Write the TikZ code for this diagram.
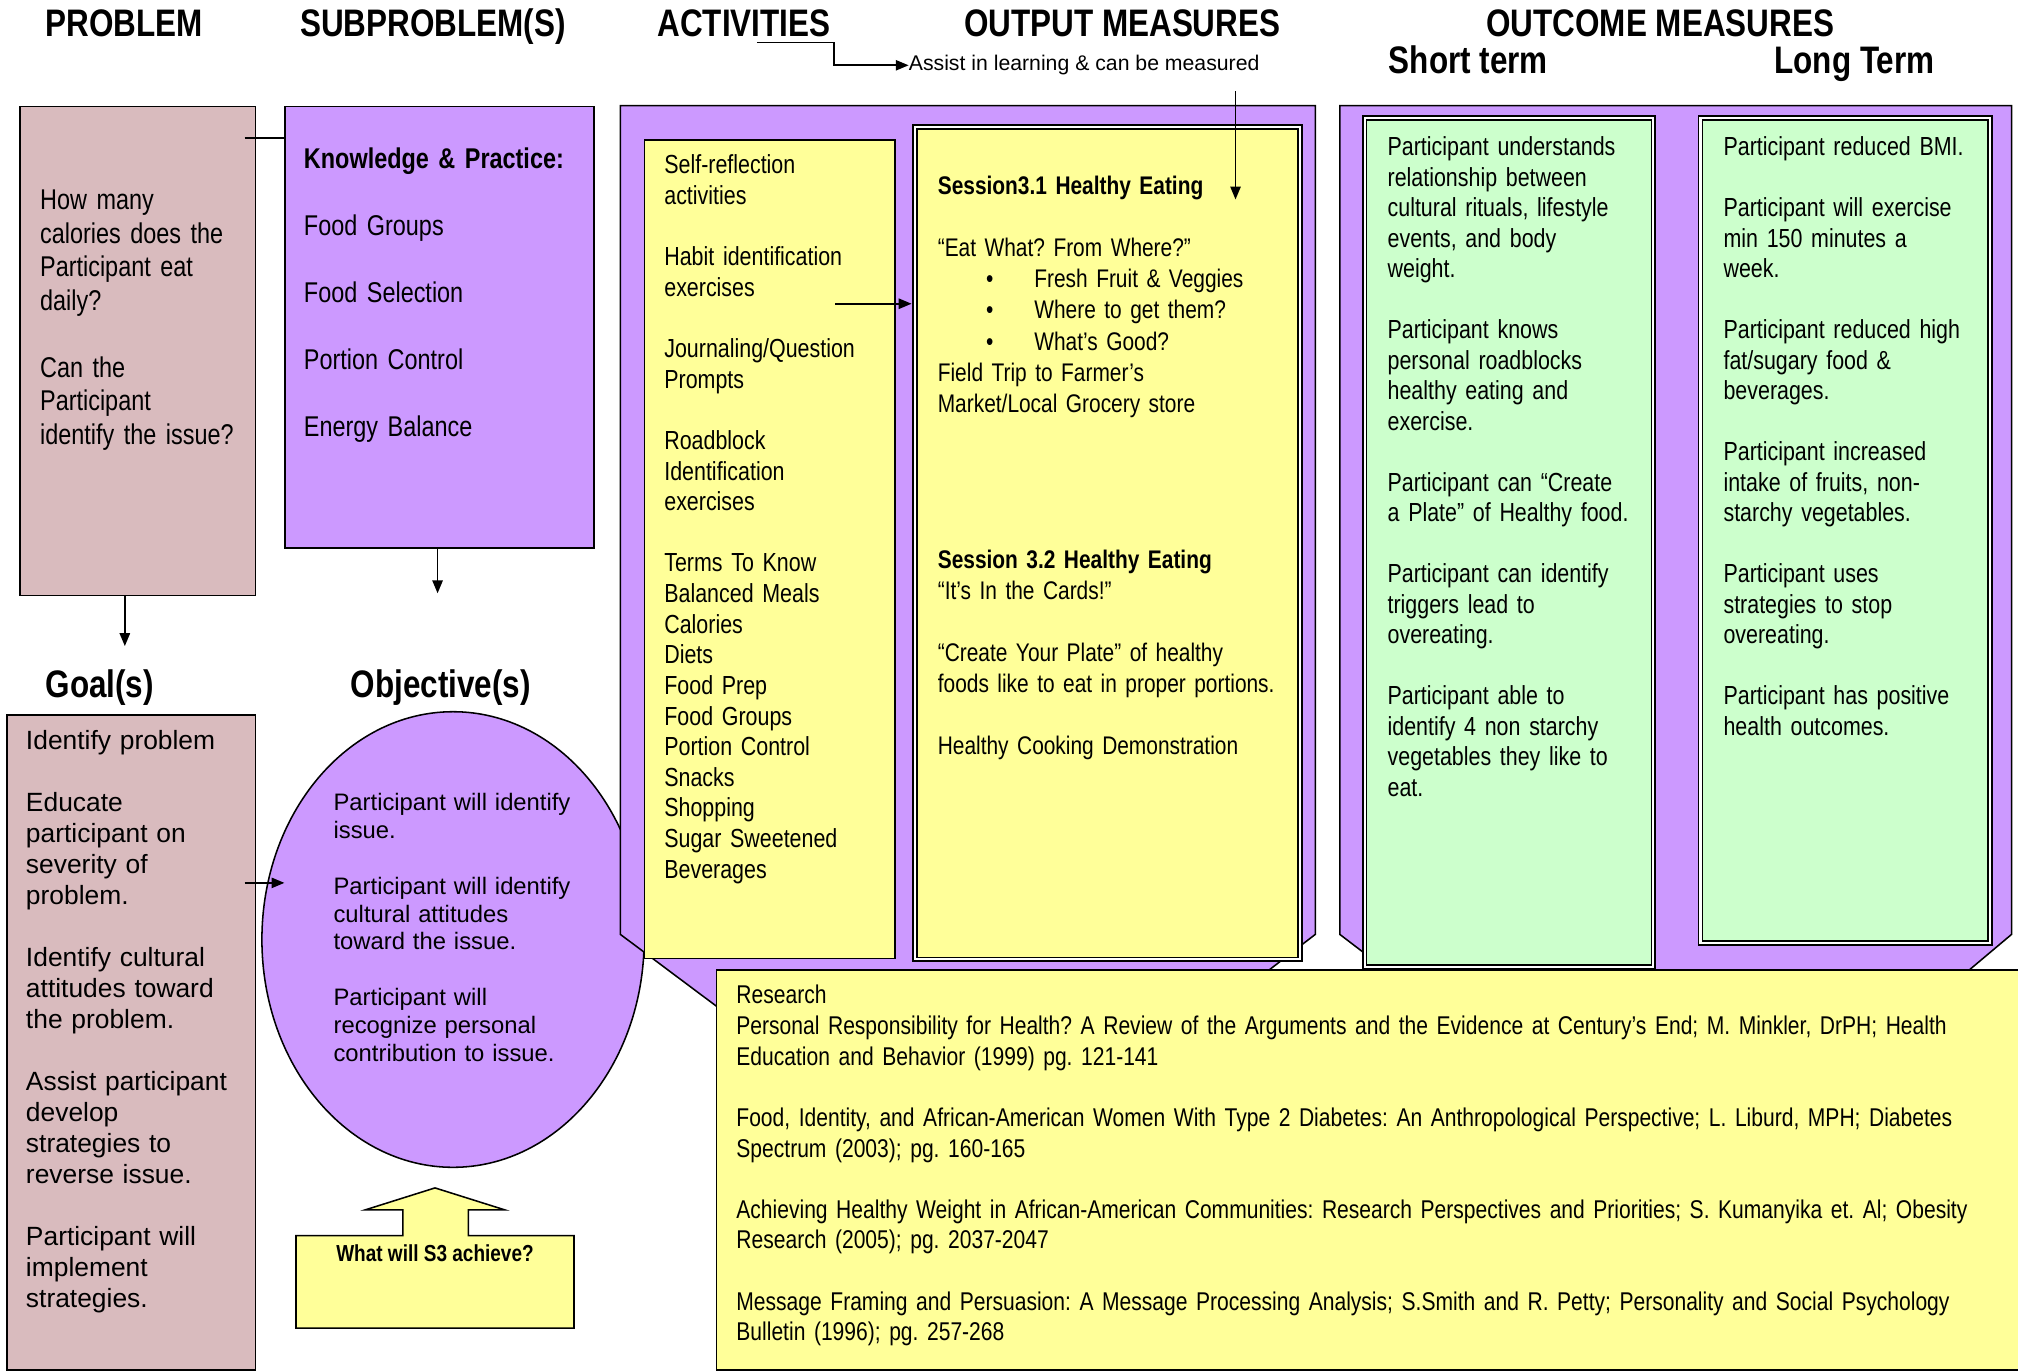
\documentclass[tikz,border=0pt]{standalone}
\usepackage{fontspec}
\setmainfont{Liberation Sans}
\newfontfamily\narrowfont[FakeStretch=0.82]{Liberation Sans}
\usetikzlibrary{shapes.geometric,arrows.meta}

\definecolor{probpink}{RGB}{217,187,190}
\definecolor{lav}{RGB}{204,153,255}
\definecolor{lightyel}{RGB}{255,255,153}
\definecolor{mint}{RGB}{204,255,204}

\newcommand{\setnarrow}[2]{\narrowfont\fontsize{#1}{#2}\selectfont}
\newcommand{\setplain}[2]{\fontsize{#1}{#2}\selectfont}
\newcommand{\gapline}{\\[\baselineskip]}

\begin{document}
\frenchspacing
\begin{tikzpicture}[x=1pt,y=-1pt,
  box/.style={draw, line width=1.2pt, anchor=north west, inner sep=0pt},
  dbox/.style={box, line width=1.4pt, double=white, double distance=1.6pt},
  txt/.style={anchor=base west, inner sep=0pt, text width=#1, align=left},
  txt/.default=330pt,
  head/.style={anchor=base, inner sep=0pt, font=\narrowfont\bfseries\fontsize{29.8}{31}\selectfont},
  arr/.style={line width=1.3pt, -{Triangle[length=10pt,width=8pt]}}]
  \useasboundingbox (0,0) rectangle (1568,1066);

  % column heads
  \foreach \t/\x [count=\i] in {PROBLEM/96.5, SUBPROBLEM(S)/336.5, ACTIVITIES/578,
      OUTPUT MEASURES/872, OUTCOME MEASURES/1290}
    \node[head] (head\i) at (\x,28) {\t};
  \node[head] (shorthd) at (1141,57) {Short term};
  \node[head] (longhd) at (1441,57) {Long Term};
  \node[head] (goalhd) at (77.5,542) {Goal(s)};
  \node[head] (objhd) at (342.5,542) {Objective(s)};
  \node[anchor=base west, inner sep=0pt, font={\setplain{16.5}{18}}] (assist) at (706,55)
    {Assist in learning \& can be measured};

  % left column boxes
  \node[box, fill=probpink, minimum width=183pt, minimum height=380pt] (problem) at (15,82) {};
  \node[box, fill=lav, minimum width=240pt, minimum height=343pt] (subprob) at (221,82) {};
  \node[box, fill=probpink, minimum width=193pt, minimum height=509pt] (goal) at (5,555) {};
  \node[ellipse, draw, line width=1.2pt, fill=lav, minimum width=297pt, minimum height=354pt,
        inner sep=0pt] (obj) at (352,730) {};

  % activities / output panel
  \filldraw[fill=lav, line width=1.2pt] (482,82) -- (1022,82) -- (1022,726) -- (926,800)
    -- (581,800) -- (482,726) -- cycle;
  \node[box, fill=lightyel, minimum width=194.6pt, minimum height=636pt] (act) at (500,108) {};
  \node[dbox, fill=lightyel, minimum width=299pt, minimum height=647pt] (output) at (710.3,97.8) {};

  % outcome panel
  \filldraw[fill=lav, line width=1.2pt] (1041,82) -- (1563,82) -- (1563,726) -- (1475,800)
    -- (1138,800) -- (1041,726) -- cycle;
  \node[dbox, fill=mint, minimum width=224.4pt, minimum height=660pt] (short) at (1059.6,90.8) {};
  \node[dbox, fill=mint, minimum width=224.7pt, minimum height=641pt] (long) at (1320.6,90.8) {};

  % research
  \node[box, fill=lightyel, minimum width=1030pt, minimum height=311pt] (research) at (556,753) {};

  % callout under the objectives
  \filldraw[fill=lightyel, line width=1.2pt] (230,960) -- (313,960) -- (313,940) -- (284,940)
    -- (338,923) -- (392,940) -- (364,940) -- (364,960) -- (446,960) -- (446,1032)
    -- (230,1032) -- cycle;
  \node[anchor=base, inner sep=0pt, font=\narrowfont\bfseries\fontsize{18}{20}\selectfont]
    (achieve) at (338,980.5) {What will S3 achieve?};

  % connectors
  \coordinate (acttail) at (588,33);
  \draw[arr] (acttail) -- ++(60,0) |- (assist.west);
  \coordinate (meastop) at (960,71);
  \coordinate (meastip) at (960,155);
  \draw[arr] (meastop) -- (meastip);
  \coordinate (ptip) at (97,502);
  \draw[arr] (ptip |- problem.south) -- (ptip);
  \coordinate (stip) at (340,461);
  \draw[arr] (stip |- subprob.south) -- (stip);
  \coordinate (pq) at (190,107);
  \draw[line width=1.3pt] (pq) -- (pq -| subprob.west);
  \coordinate (gtail) at (190,686);
  \coordinate (gtip) at (221,686);
  \draw[arr] (gtail) -- (gtip);
  \coordinate (atail) at (649,236);
  \draw[arr, shorten >=2pt] (atail) -- (atail -| output.west);

  % texts
  \node[txt, font={\setnarrow{22.2}{26}}] (probtxt) at (31,163)
    {How many\\calories does the\\Participant eat\\daily?\gapline Can the\\Participant\\identify the issue?};
  \node[txt, font={\setnarrow{22.2}{26}}] (subtxt) at (236,131)
    {{\bfseries Knowledge \& Practice:}\gapline Food Groups\gapline Food Selection\gapline
     Portion Control\gapline Energy Balance};
  \node[txt, font={\setplain{20.5}{24.1}}] (goaltxt) at (20,582)
    {Identify problem\gapline Educate\\participant on\\severity of\\problem.\gapline
     Identify cultural\\attitudes toward\\the problem.\gapline Assist participant\\develop\\
     strategies to\\reverse issue.\gapline Participant will\\implement\\strategies.};
  \node[txt, font={\setplain{18.5}{21.6}}] (objtxt) at (259,630)
    {Participant will identify\\issue.\gapline Participant will identify\\cultural attitudes\\
     toward the issue.\gapline Participant will\\recognize personal\\contribution to issue.};
  \node[txt, font={\setnarrow{20.3}{23.8}}] (acttxt) at (516,135)
    {Self-reflection\\activities\gapline Habit identification\\exercises\gapline
     Journaling/Question\\Prompts\gapline Roadblock\\Identification\\exercises\gapline
     Terms To Know\\Balanced Meals\\Calories\\Diets\\Food Prep\\Food Groups\\Portion Control\\
     Snacks\\Shopping\\Sugar Sweetened\\Beverages};
  \node[txt, font={\setnarrow{19.8}{24.2}}] (outtxt) at (728.5,151)
    {{\bfseries Session3.1 Healthy Eating}\gapline “Eat What? From Where?”\\
     \hspace*{37.5pt}\makebox[37.5pt][l]{•}Fresh Fruit \& Veggies\\
     \hspace*{37.5pt}\makebox[37.5pt][l]{•}Where to get them?\\
     \hspace*{37.5pt}\makebox[37.5pt][l]{•}What’s Good?\\
     Field Trip to Farmer’s\\Market/Local Grocery store\\[4\baselineskip]
     {\bfseries Session 3.2 Healthy Eating}\\“It’s In the Cards!”\gapline
     “Create Your Plate” of healthy\\foods like to eat in proper portions.\gapline
     Healthy Cooking Demonstration};
  \node[txt, font={\setnarrow{20.3}{23.7}}] (shorttxt) at (1078,121)
    {Participant understands\\relationship between\\cultural rituals, lifestyle\\events, and body\\
     weight.\gapline Participant knows\\personal roadblocks\\healthy eating and\\exercise.\gapline
     Participant can “Create\\a Plate” of Healthy food.\gapline Participant can identify\\
     triggers lead to\\overeating.\gapline Participant able to\\identify 4 non starchy\\
     vegetables they like to\\eat.};
  \node[txt, font={\setnarrow{20.3}{23.7}}] (longtxt) at (1339,121)
    {Participant reduced BMI.\gapline Participant will exercise\\min 150 minutes a\\week.\gapline
     Participant reduced high\\fat/sugary food \&\\beverages.\gapline Participant increased\\
     intake of fruits, non-\\starchy vegetables.\gapline Participant uses\\strategies to stop\\
     overeating.\gapline Participant has positive\\health outcomes.};
  \node[txt=1200pt, font={\setnarrow{19.95}{23.8}}] (restxt) at (572,780)
    {Research\\Personal Responsibility for Health? A Review of the Arguments and the Evidence at Century’s End; M. Minkler, DrPH; Health\\
     Education and Behavior (1999) pg. 121-141\gapline
     Food, Identity, and African-American Women With Type 2 Diabetes: An Anthropological Perspective; L. Liburd, MPH; Diabetes\\
     Spectrum (2003); pg. 160-165\gapline
     Achieving Healthy Weight in African-American Communities: Research Perspectives and Priorities; S. Kumanyika et. Al; Obesity\\
     Research (2005); pg. 2037-2047\gapline
     Message Framing and Persuasion: A Message Processing Analysis; S.Smith and R. Petty; Personality and Social Psychology\\
     Bulletin (1996); pg. 257-268};
\end{tikzpicture}
\end{document}
